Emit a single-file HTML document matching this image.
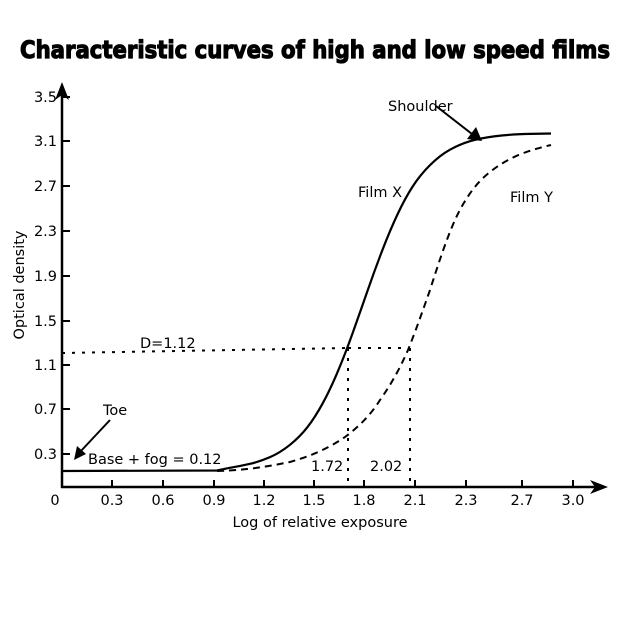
<!DOCTYPE html>
<html><head><style>
body{margin:0;background:#fff;}
svg text{font-family:"DejaVu Sans","Liberation Sans",sans-serif;fill:#000;}
</style></head><body>
<svg width="630" height="630" viewBox="0 0 630 630" xmlns="http://www.w3.org/2000/svg">
<text x="315" y="58" text-anchor="middle" font-size="24" font-weight="bold" font-family="Liberation Sans" textLength="590" lengthAdjust="spacingAndGlyphs" stroke="#000" stroke-width="1.2">Characteristic curves of high and low speed films</text>
<g stroke="#000" stroke-width="2.5" fill="none">
<line x1="62" y1="488" x2="62" y2="92"/>
<line x1="61" y1="487" x2="598" y2="487"/>
</g>
<polygon points="62,82 55,100 62,95 69,100" fill="#000"/>
<polygon points="608,487 590,480 595,487 590,494" fill="#000"/>
<g stroke="#000" stroke-width="2">
<line x1="112" y1="487" x2="112" y2="480"/><line x1="163" y1="487" x2="163" y2="480"/>
<line x1="214" y1="487" x2="214" y2="480"/><line x1="264" y1="487" x2="264" y2="480"/>
<line x1="314" y1="487" x2="314" y2="480"/><line x1="364" y1="487" x2="364" y2="480"/>
<line x1="415" y1="487" x2="415" y2="480"/><line x1="466" y1="487" x2="466" y2="480"/>
<line x1="522" y1="487" x2="522" y2="480"/><line x1="573" y1="487" x2="573" y2="480"/>
<line x1="62" y1="454" x2="70" y2="454"/><line x1="62" y1="409" x2="70" y2="409"/>
<line x1="62" y1="365" x2="70" y2="365"/><line x1="62" y1="321" x2="70" y2="321"/>
<line x1="62" y1="276" x2="70" y2="276"/><line x1="62" y1="231" x2="70" y2="231"/>
<line x1="62" y1="186" x2="70" y2="186"/><line x1="62" y1="141" x2="70" y2="141"/>
<line x1="62" y1="97" x2="70" y2="97"/>
</g>
<g font-size="14.5" text-anchor="middle">
<text x="55" y="505">0</text><text x="112" y="505">0.3</text><text x="163" y="505">0.6</text>
<text x="214" y="505">0.9</text><text x="264" y="505">1.2</text><text x="314" y="505">1.5</text>
<text x="364" y="505">1.8</text><text x="415" y="505">2.1</text><text x="466" y="505">2.3</text>
<text x="522" y="505">2.7</text><text x="573" y="505">3.0</text>
</g>
<g font-size="14.5" text-anchor="end">
<text x="57" y="459">0.3</text><text x="57" y="414">0.7</text><text x="57" y="370">1.1</text>
<text x="57" y="326">1.5</text><text x="57" y="281">1.9</text><text x="57" y="236">2.3</text>
<text x="57" y="191">2.7</text><text x="57" y="146">3.1</text><text x="57" y="102">3.5</text>
</g>
<text x="320" y="527" font-size="14.5" text-anchor="middle">Log of relative exposure</text>
<text transform="translate(24,285) rotate(-90)" font-size="14.5" text-anchor="middle">Optical density</text>
<path d="M62,471 L217,470.5 L228.5,468.1 Q240,466.2 250,463.85 Q260,461.5 270,457.15 Q280,452.8 290,444.8 Q300,436.8 307.5,427.1 Q315,417.4 322.5,403.7 Q330,390 337.5,372.2 Q345,354.4 352.5,333.45 Q360,312.5 367.5,290.9 Q375,269.3 382.5,249.8 Q390,230.3 397.5,214.35 Q405,198.4 412.5,186.75 Q420,175.1 430,165.15 Q440,155.2 450,149.7 Q460,144.2 470,141.2 Q480,138.2 495,136.25 Q510,134.3 530.5,133.9 L551,133.5" stroke="#000" stroke-width="2.2" fill="none" stroke-linejoin="round"/>
<path d="M217,471 C250,470 270,466 290,462 C315,455 332,446 345,437 C360,426 372,413 380,400 C392,383 400,368 408,350 C416,330 423,310 430,290 C438,265 446,240 455,220 C465,198 477,182 490,172 C510,156 530,150 551,145" stroke="#000" stroke-width="2" fill="none" stroke-dasharray="7,5"/>
<g stroke="#000" stroke-width="2" stroke-dasharray="3,7" fill="none">
<line x1="62" y1="353" x2="348" y2="348"/>
<line x1="348" y1="348" x2="410" y2="348"/>
<line x1="348" y1="348" x2="348" y2="487"/>
<line x1="410" y1="348" x2="410" y2="487"/>
</g>
<g font-size="14.5">
<text x="140" y="348">D=1.12</text>
<text x="88" y="464">Base + fog = 0.12</text>
<text x="103" y="415">Toe</text>
<text x="358" y="197">Film X</text>
<text x="510" y="202">Film Y</text>
<text x="388" y="111">Shoulder</text>
<text x="311" y="471">1.72</text>
<text x="370" y="471">2.02</text>
</g>
<g stroke="#000" stroke-width="2">
<line x1="110" y1="420" x2="80" y2="452"/>
<line x1="436" y1="106" x2="472" y2="134"/>
</g>
<polygon points="74,460 77,446 86,454" fill="#000"/>
<polygon points="482,141 467,139 476,127" fill="#000"/>
</svg>
</body></html>
